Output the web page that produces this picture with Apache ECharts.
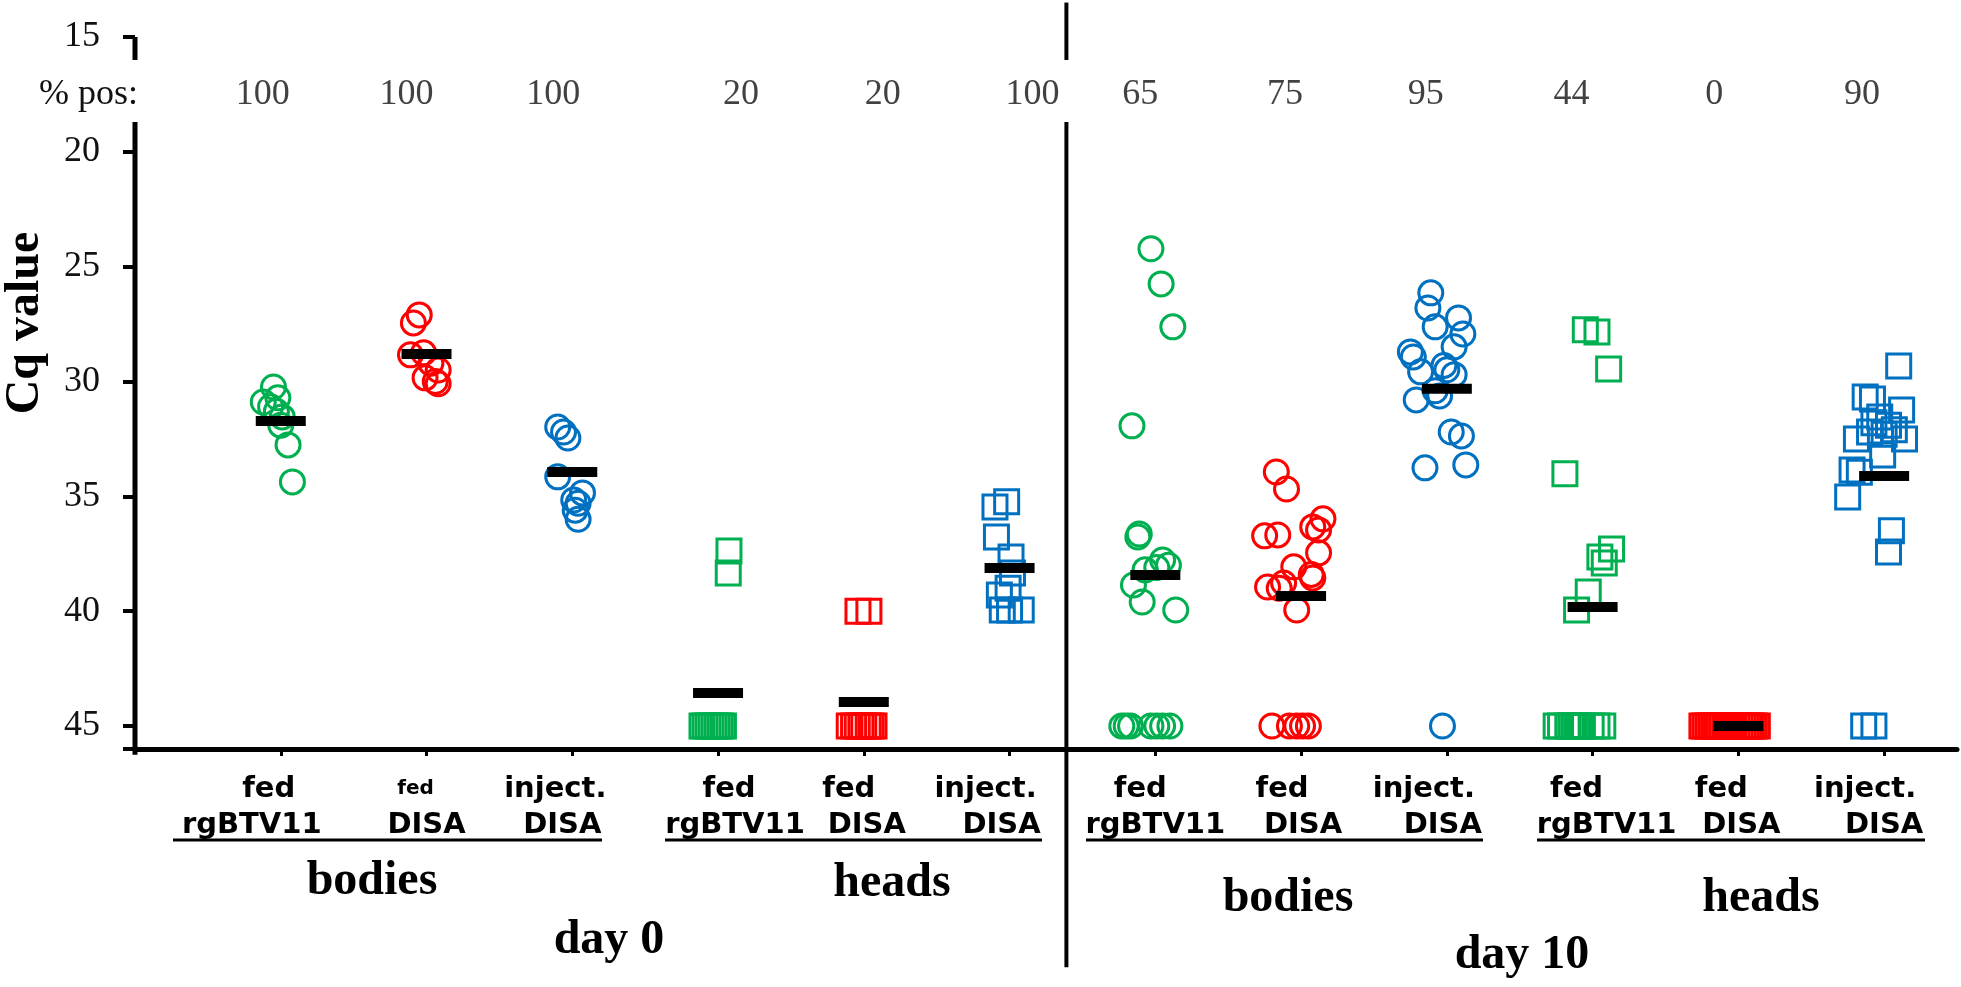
<!DOCTYPE html>
<html><head><meta charset="utf-8">
<script src="https://cdn.jsdelivr.net/npm/echarts@6/dist/echarts.min.js"></script>
<style>html,body{margin:0;padding:0;background:#fff}#c{width:1961px;height:987px}</style>
</head><body><div id="c"></div>
<script>
// ---------- data ----------
const line1 = ['fed','fed','inject.','fed','fed','inject.','fed','fed','inject.','fed','fed','inject.'];
const line2 = ['rgBTV11','DISA','DISA','rgBTV11','DISA','DISA','rgBTV11','DISA','DISA','rgBTV11','DISA','DISA'];
const tissueLabels = ['bodies','heads','bodies','heads'];
const dayLabels = ['day 0','day 10'];
const posPct = [100,100,100,20,20,100,65,75,95,44,0,90];
const yTicks = [15,20,25,30,35,40,45];
const means = [31.72,28.8,33.94,43.56,43.95,38.12,38.42,39.34,30.32,39.82,45.0,34.11];

// Cq values per group and their horizontal jitter (in category units)
const g1_cq  = [30.24,30.71,30.89,31.1,31.3,31.54,31.9,32.76,34.37];
const g1_jit = [-0.05,-0.02,-0.12,-0.07,-0.03,0.01,0.0,0.05,0.08];
const g2_cq  = [27.1,27.45,28.75,28.84,29.2,29.5,29.84,30.0,30.1];
const g2_jit = [-0.05,-0.09,-0.02,-0.11,0.03,0.08,-0.01,0.06,0.08];
const g3_cq  = [31.98,32.2,32.46,34.15,34.85,35.16,35.3,35.6,36.0];
const g3_jit = [-0.10,-0.06,-0.03,-0.10,0.07,0.01,0.04,0.02,0.04];
const g4_cq  = [37.38,38.34,45,45,45,45,45,45,45,45];
const g4_jit = [0.075,0.07,-0.11,-0.089,-0.068,-0.047,-0.026,-0.005,0.016,0.037];
const g5_cq  = [40,40,45,45,45,45,45,45,45,45];
const g5_jit = [-0.04,0.035,-0.10,-0.07,-0.045,-0.02,0.0,0.03,0.05,0.07];
const g6_cq  = [35.24,35.46,36.77,37.64,38.34,39.0,39.3,39.95,39.95,39.95];
const g6_jit = [-0.02,-0.10,-0.09,0.01,0.02,-0.01,-0.07,-0.05,0.08,0.0];
const g7_cq  = [24.22,25.75,27.62,31.93,36.64,36.77,37.77,38.0,38.1,38.2,38.86,39.6,39.95,45,45,45,45,45,45,45];
const g7_jit = [-0.03,0.04,0.12,-0.16,-0.11,-0.12,0.05,0.09,0.01,-0.07,-0.15,-0.09,0.14,-0.23,-0.2,-0.17,-0.03,0.01,0.05,0.1];
const g8_cq  = [33.94,34.68,35.98,36.33,36.46,36.68,36.72,37.46,38.07,38.4,38.55,38.77,38.95,39.0,39.95,45,45,45,45,45];
const g8_jit = [-0.17,-0.10,0.15,0.08,0.12,-0.16,-0.25,0.12,-0.05,0.07,0.08,-0.12,-0.23,-0.15,-0.03,-0.20,-0.08,-0.03,0.01,0.05];
const g9_cq  = [26.14,26.8,27.62,27.23,27.93,28.49,28.71,28.93,29.58,29.49,29.3,29.7,30.4,30.63,30.8,32.2,32.37,33.76,33.63,45];
const g9_jit = [-0.11,-0.13,-0.08,0.08,0.11,0.05,-0.25,-0.23,-0.18,0.0,-0.02,0.05,-0.08,-0.05,-0.21,0.03,0.10,-0.15,0.13,-0.03];
const g10_cq  = [27.75,27.84,29.45,34.02,37.29,37.64,37.9,39.16,39.95,45,45,45,45,45,45,45,45,45,45,45];
const g10_jit = [-0.05,0.03,0.11,-0.19,0.13,0.05,0.08,-0.03,-0.11,-0.25,-0.22,-0.17,-0.15,-0.13,-0.11,-0.09,-0.07,-0.01,0.03,0.07];
const g11_cq  = [45,45,45,45,45,45,45,45,45,45,45,45,45,45,45,45,45,45,45,45];
const g11_jit = [-0.25,-0.23,-0.21,-0.19,-0.17,-0.15,-0.13,-0.11,-0.09,-0.07,-0.05,-0.03,-0.01,0.01,0.03,0.05,0.07,0.09,0.11,0.13];
const g12_cq  = [29.32,30.67,30.76,31.24,31.54,31.8,31.9,32.1,32.2,32.3,32.5,32.5,33.2,33.85,33.95,35.03,36.5,37.42,45,45];
const g12_jit = [0.10,-0.13,-0.08,0.12,-0.03,-0.07,0.03,0.07,-0.10,0.0,0.14,-0.19,-0.01,-0.22,-0.17,-0.25,0.05,0.03,-0.14,-0.07];

// ---------- styling / layout ----------
const GREEN = '#00B050', RED = '#FF0000', BLUE = '#0070C0';
const groupColors = [GREEN,RED,BLUE,GREEN,RED,BLUE,GREEN,RED,BLUE,GREEN,RED,BLUE];
const groupShapes = ['circle','circle','circle','rect','rect','rect','circle','circle','circle','rect','rect','rect'];
const groups = [[g1_cq,g1_jit],[g2_cq,g2_jit],[g3_cq,g3_jit],[g4_cq,g4_jit],[g5_cq,g5_jit],[g6_cq,g6_jit],
                [g7_cq,g7_jit],[g8_cq,g8_jit],[g9_cq,g9_jit],[g10_cq,g10_jit],[g11_cq,g11_jit],[g12_cq,g12_jit]];
const shift1 = [-12,-11,-17,11,-15,-24,-15,-19,-23,-16,-17,-19];   // px shift of first label line
const shift2 = [-29,0,-10,17,3,-8,0,2,-4,14,3,0];                  // px shift of second label line
const line1Size = [29,20,29,29,29,29,29,29,29,29,29,29];
const posShift = [-18,-20,-19,23,19,23,-15,-16,-21,-21,-24,-22];
const POS_ROW_Y = 17.52;
const SERIF = '"Liberation Serif","Times New Roman",serif';
const SANS = '"DejaVu Sans",Verdana,sans-serif';

const rich = {};
line1.forEach((t,i)=>{
  const p1 = shift1[i]*2, p2 = shift2[i]*2;
  rich['a'+i] = {fontFamily:SANS,fontWeight:'bold',fontSize:line1Size[i],color:'#000',lineHeight:36,
                 padding: p1>=0 ? [0,0,0,p1] : [0,-p1,0,0]};
  rich['b'+i] = {fontFamily:SANS,fontWeight:'bold',fontSize:29,color:'#000',lineHeight:36,
                 padding: p2>=0 ? [0,0,0,p2] : [0,-p2,0,0]};
});

const series = [];
groups.forEach(([cq,jit],i)=>{
  series.push({
    type:'scatter', silent:true, z:3,
    symbol: groupShapes[i], symbolSize: 24,
    itemStyle:{color:'rgba(255,255,255,0)', borderColor:groupColors[i], borderWidth:3, opacity:1},
    data: cq.map((v,k)=>[i+1+jit[k], v])
  });
});
series.push({
  type:'scatter', silent:true, z:6, symbol:'rect', symbolSize:[50,10],
  itemStyle:{color:'#000', opacity:1},
  data: means.map((m,i)=>[i+1,m])
});
series.push({
  type:'scatter', silent:true, z:6, symbolSize:1, itemStyle:{color:'rgba(0,0,0,0)'},
  label:{show:true, position:'inside', fontFamily:SERIF, fontSize:36, color:'#111',
         formatter: p => String(posPct[p.dataIndex])},
  data: posPct.map((p,i)=>({value:[i+1,POS_ROW_Y], label:{offset:[posShift[i],0]}}))
});
// broken y axis line and the day divider
const axisSeg = (pts,w)=>({type:'line', silent:true, clip:false, z:8, showSymbol:false, symbol:'none',
  lineStyle:{color:'#000', width:w, opacity:1}, data:pts, animation:false});
series.push(axisSeg([[0,15],[0,16.0]],5));
series.push(axisSeg([[0,18.7],[0,46.25]],5));
series.push(axisSeg([[6.39,13.5],[6.39,16.0]],4));
series.push(axisSeg([[6.39,18.7],[6.39,55.5]],4));

const chart = echarts.init(document.getElementById('c'), null, {renderer:'canvas'});
const graphic = [
  {type:'text', x:26, y:323, rotation:Math.PI/2,
   style:{text:'Cq value', font:'bold 48px '+SERIF, fill:'#000', textAlign:'center', textVerticalAlign:'middle'}},
  {type:'text', x:138, y:95,
   style:{text:'% pos:', font:'36px '+SERIF, fill:'#111', textAlign:'right', textVerticalAlign:'middle'}},
];
const tissuePos = [[372,882],[892,884],[1288,899],[1761,899]];
tissueLabels.forEach((t,i)=>graphic.push({type:'text', x:tissuePos[i][0], y:tissuePos[i][1],
  style:{text:t, font:'bold 48px '+SERIF, fill:'#000', textAlign:'center', textVerticalAlign:'middle'}}));
const dayPos = [[609,941],[1522,956]];
dayLabels.forEach((t,i)=>graphic.push({type:'text', x:dayPos[i][0], y:dayPos[i][1],
  style:{text:t, font:'bold 48px '+SERIF, fill:'#000', textAlign:'center', textVerticalAlign:'middle'}}));
const underlines = [[173,602],[665,1042],[1086,1483],[1537,1925]];
underlines.forEach(u=>graphic.push({type:'line', shape:{x1:u[0],y1:840,x2:u[1],y2:840},
  style:{stroke:'#000', lineWidth:3}}));

chart.setOption({
  animation:false,
  backgroundColor:'#fff',
  grid:{left:135, right:4, top:37, bottom:238, containLabel:false},
  xAxis:{type:'value', min:0, max:12.5, interval:1,
    axisLine:{show:true, lineStyle:{color:'#000', width:5}},
    axisTick:{show:true, length:7, lineStyle:{color:'#000', width:3}},
    splitLine:{show:false},
    axisLabel:{margin:22, showMinLabel:false, showMaxLabel:false, rich:rich,
      formatter: v => { const i = Math.round(v)-1; if (Math.abs(v-Math.round(v))>1e-6 || i<0 || i>11) return '';
        return '{a'+i+'|'+line1[i]+'}\n{b'+i+'|'+line2[i]+'}'; }}
  },
  yAxis:{type:'value', inverse:true, min:15, max:46, interval:5,
    axisLine:{show:false},
    axisTick:{show:true, length:12, lineStyle:{color:'#000', width:4}},
    splitLine:{show:false},
    axisLabel:{margin:35, fontFamily:SERIF, fontSize:36, color:'#111',
      formatter: v => yTicks.includes(v) ? String(v) : ''}
  },
  graphic: graphic,
  series: series
});
</script></body></html>
